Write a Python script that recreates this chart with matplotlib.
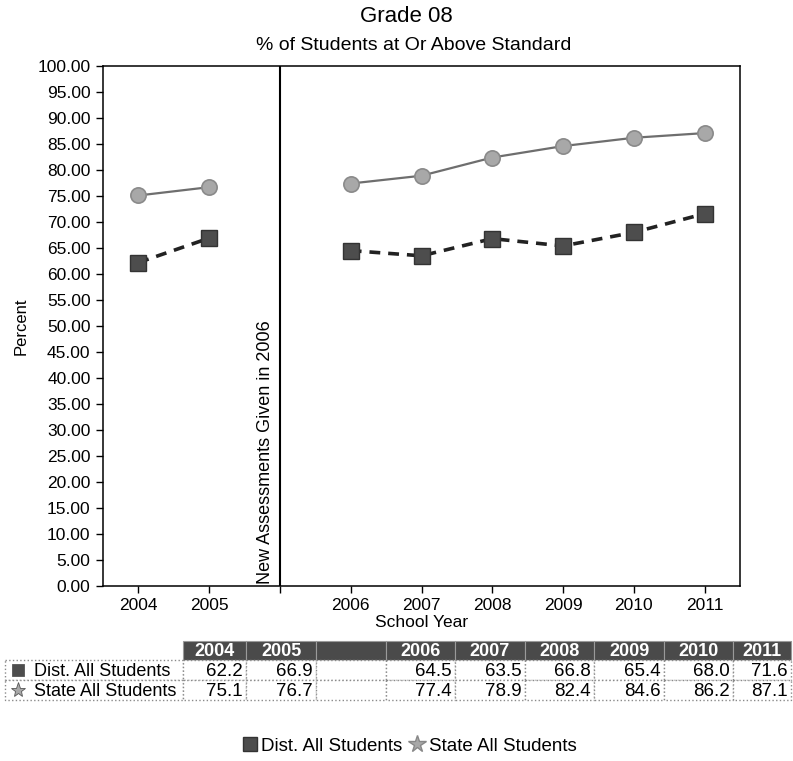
import numpy as np
import matplotlib as mpl
mpl.use('Agg')
import matplotlib.pyplot as plt
from matplotlib.patches import Rectangle
from matplotlib.lines import Line2D

plt.rcParams['font.family'] = ['Liberation Sans', 'DejaVu Sans']

# data
years = ['2004', '2005', '', '2006', '2007', '2008', '2009', '2010', '2011']
dist = [62.2, 66.9, np.nan, 64.5, 63.5, 66.8, 65.4, 68.0, 71.6]
state = [75.1, 76.7, np.nan, 77.4, 78.9, 82.4, 84.6, 86.2, 87.1]
series_names = ['Dist. All Students', 'State All Students']
yticks = np.arange(0, 101, 5)

W, H = 793, 761
fig = plt.figure(figsize=(W / 100, H / 100), dpi=100)
ax = fig.add_axes([103 / W, 1 - 586 / H, (740 - 103) / W, (586 - 66) / H])

x = np.arange(len(years))
dist_c = '#4d4d4d'
state_c = '#a8a8a8'

ax.plot(x, state, color='#6e6e6e', lw=1.6, marker='o', ms=11,
        mfc=state_c, mec='#8a8a8a', mew=1.2, zorder=3)
ax.plot(x, dist, color='#222222', lw=2.6, ls=(0, (3, 2.2)), marker='s', ms=12,
        mfc=dist_c, mec='#333333', mew=1, zorder=4)

gap = years.index('')
ax.axvline(gap, color='black', lw=1.5)
ax.text(gap - 0.08, 0.3, 'New Assessments Given in 2006', rotation=90,
        ha='right', va='bottom', fontsize=13)

ax.set_xlim(-0.5, len(years) - 0.5)
ax.set_ylim(0, 100)
ax.set_xticks(x)
ax.set_xticklabels(years, fontsize=12.5)
ax.set_yticks(yticks)
ax.set_yticklabels(['%.2f' % v for v in yticks], fontsize=12.5)
ax.tick_params(direction='out', length=5, width=1, pad=4)
for s in ax.spines.values():
    s.set_linewidth(1.1)

ax.set_xlabel('School Year', fontsize=12.5, labelpad=1)
ax.set_ylabel('Percent', fontsize=12, labelpad=6)

fig.text(0.512, 1 - 17 / H, 'Grade 08', ha='center', va='center', fontsize=16)
fig.text(0.522, 1 - 45 / H, '% of Students at Or Above Standard', ha='center',
         va='center', fontsize=14)

# data table below the chart
tax = fig.add_axes([0, 0, 1, 1])
tax.set_xlim(0, W)
tax.set_ylim(H, 0)
tax.axis('off')

edges = [183, 246, 316, 386, 455, 525, 594, 664, 733, 791]
lab_x0 = 5
hdr_y0, hdr_y1 = 641, 660
row_h = 20
grid_c = '#8a8a8a'

for i, yr in enumerate(years):
    x0, x1 = edges[i], edges[i + 1]
    tax.add_patch(Rectangle((x0, hdr_y0), x1 - x0, hdr_y1 - hdr_y0,
                            facecolor='#4a4a4a', edgecolor='#9a9a9a', lw=0.8))
    tax.text((x0 + x1) / 2, (hdr_y0 + hdr_y1) / 2 + 1, yr, ha='center', va='center',
             color='white', fontsize=13, fontweight='bold')

rows = [dist, state]
icons = [('s', dist_c), ('*', state_c)]
for r, vals in enumerate(rows):
    y0 = hdr_y1 + r * row_h
    tax.add_patch(Rectangle((lab_x0, y0), edges[0] - lab_x0, row_h,
                            facecolor='white', edgecolor=grid_c, lw=1, ls=':'))
    tax.plot(18, y0 + row_h / 2, marker=icons[r][0], ms=8 if r == 0 else 11,
             color=icons[r][1], mec='#555555', mew=0.6)
    tax.text(34, y0 + row_h / 2 + 1, series_names[r], ha='left', va='center',
             fontsize=13)
    for i, v in enumerate(vals):
        x0, x1 = edges[i], edges[i + 1]
        tax.add_patch(Rectangle((x0, y0), x1 - x0, row_h, facecolor='white',
                                edgecolor=grid_c, lw=1, ls=':'))
        if not np.isnan(v):
            tax.text(x1 - 3, y0 + row_h / 2 + 1, '%.1f' % v, ha='right',
                     va='center', fontsize=13.5)

# legend at bottom
handles = [Line2D([], [], ls='none', marker='s', ms=10, mfc=dist_c, mec='#333333'),
           Line2D([], [], ls='none', marker='*', ms=13, mfc=state_c, mec='#888888')]
fig.legend(handles, series_names, loc='center', bbox_to_anchor=(0.515, 1 - 746 / H),
           ncol=2, frameon=False, fontsize=13.5, handletextpad=0.1,
           columnspacing=0.3, handlelength=1.0)

fig.savefig('out.png', dpi=100)
